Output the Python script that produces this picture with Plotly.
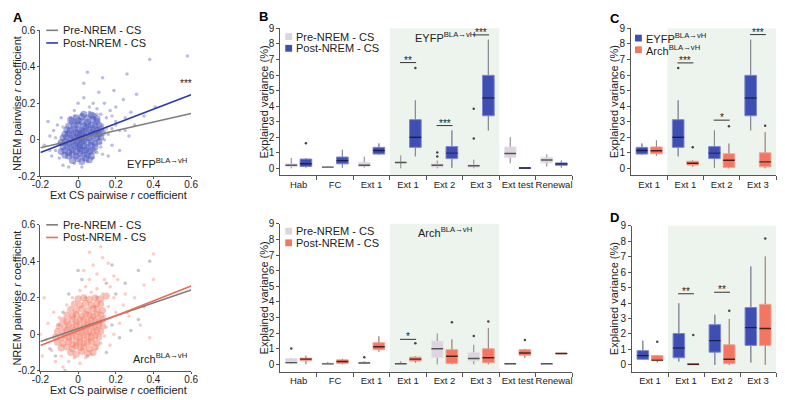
import plotly.graph_objects as go

W, H = 785, 400
def px(x): return x / W
def py(y): return 1 - y / H

FONT = "Liberation Sans, Arial, sans-serif"

# ---------------- DATA ----------------
# Panel A (top, EYFP): dense core of points and sparser outer points (read approximately)
eyfp_core_x = [-0.03,0.00,0.02,0.04,0.06, -0.07,-0.05,-0.03,-0.01,0.01,0.03,0.05,0.07,
               -0.09,-0.07,-0.05,-0.03,-0.01,0.01,0.02,0.04,0.06,0.08,
               -0.08,-0.06,-0.04,-0.02,0.00,0.01,0.03,0.05,0.07,0.09,
               -0.09,-0.07,-0.05,-0.03,-0.01,0.00,0.02,0.03,0.05,0.07,0.09,0.11,
               -0.08,-0.06,-0.04,-0.02,0.00,0.01,0.02,0.04,0.06,0.08,0.10,0.12,
               -0.07,-0.05,-0.03,-0.01,0.00,0.02,0.03,0.05,0.07,0.09,0.11,0.13,
               -0.06,-0.04,-0.02,0.00,0.02,0.04,0.06,0.08,0.10,0.12,
               -0.05,-0.02,0.00,0.03,0.05,0.07,0.09,0.11,
               -0.03,0.00,0.02,0.05,0.08,0.10,
               -0.01,0.02,0.05,0.08,0.03,0.07,-0.04,0.10]
eyfp_core_y = [-0.115,-0.105,-0.12,-0.10,-0.11, -0.085,-0.09,-0.08,-0.09,-0.075,-0.085,-0.08,-0.09,
               -0.065,-0.06,-0.07,-0.055,-0.065,-0.05,-0.06,-0.055,-0.065,-0.06,
               -0.04,-0.035,-0.045,-0.03,-0.04,-0.03,-0.035,-0.045,-0.03,-0.04,
               -0.015,-0.01,-0.02,-0.01,-0.02,-0.005,-0.015,-0.005,-0.015,-0.01,-0.02,-0.01,
               0.01,0.015,0.005,0.015,0.01,0.02,0.005,0.015,0.01,0.02,0.01,0.015,
               0.03,0.035,0.025,0.04,0.03,0.035,0.045,0.03,0.04,0.035,0.03,0.04,
               0.055,0.05,0.06,0.055,0.05,0.065,0.055,0.06,0.05,0.06,
               0.075,0.08,0.085,0.075,0.085,0.08,0.075,0.08,
               0.10,0.105,0.10,0.095,0.11,0.10,
               0.12,0.125,0.12,0.13,0.14,0.135,0.11,0.115]
eyfp_outer_x = [-0.18,-0.15,-0.12,-0.13,-0.10,-0.11,-0.09,-0.14,-0.16,-0.08,-0.05,-0.02,0.02,0.05,0.08,
                0.10,0.12,0.14,0.16,0.13,0.15,0.18,0.20,0.17,0.12,0.10,0.06,0.02,-0.02,-0.04,0.08,
                0.14,0.20,0.22,0.25,0.24,0.28,0.30,0.27,0.18,0.22,0.16,0.03,0.00,0.11,0.19,0.31,
                0.26,0.03,0.38,0.58,0.05,0.35,0.13,0.41]
eyfp_outer_y = [-0.03,0.02,-0.06,0.05,-0.10,0.08,0.12,-0.09,0.10,-0.14,-0.15,-0.13,-0.15,-0.12,-0.10,
                -0.07,-0.04,0.00,0.03,0.08,0.12,0.06,0.10,0.16,0.14,0.17,0.15,0.14,0.16,0.12,0.20,
                0.20,0.18,0.05,0.12,0.22,0.15,0.08,0.02,-0.03,-0.06,-0.09,0.23,0.20,0.26,0.27,0.25,
                0.36,0.31,0.44,0.46,0.37,0.13,0.34,0.18]
eyfp_pre_x = [-0.10,-0.06,0.05,0.10,0.12,-0.04,0.00,0.15,0.08,-0.12,0.20,0.03,-0.08,0.18,0.25,0.06,-0.15,0.10,0.13,-0.02]
eyfp_pre_y = [-0.02,0.04,0.06,0.04,-0.02,-0.07,0.09,0.06,-0.06,0.01,0.08,-0.11,0.07,0.13,0.05,0.18,-0.06,0.14,-0.08,0.13]

# Panel A (bottom, Arch)
arch_core_x = [-0.04,-0.01,0.02,0.05,0.08, -0.09,-0.06,-0.03,-0.01,0.01,0.03,0.06,0.09,
               -0.11,-0.08,-0.05,-0.03,-0.01,0.01,0.03,0.05,0.07,0.10,
               -0.12,-0.09,-0.07,-0.05,-0.03,-0.01,0.01,0.03,0.05,0.07,0.09,0.11,
               -0.11,-0.08,-0.06,-0.04,-0.02,0.00,0.02,0.04,0.06,0.08,0.10,0.12,
               -0.10,-0.07,-0.05,-0.03,-0.01,0.01,0.03,0.05,0.07,0.09,0.11,0.13,
               -0.08,-0.06,-0.03,-0.01,0.01,0.03,0.05,0.07,0.09,0.11,0.13,
               -0.06,-0.03,-0.01,0.02,0.04,0.06,0.08,0.10,0.12,
               -0.04,-0.01,0.02,0.05,0.08,0.10,0.13,
               -0.02,0.01,0.04,0.07,0.10,0.12,
               0.00,0.03,0.06,0.09,0.12,0.15]
arch_core_y = [-0.10,-0.11,-0.095,-0.105,-0.10, -0.075,-0.07,-0.08,-0.065,-0.075,-0.07,-0.08,-0.07,
               -0.045,-0.05,-0.04,-0.055,-0.045,-0.04,-0.05,-0.045,-0.04,-0.05,
               -0.015,-0.02,-0.01,-0.02,-0.015,-0.01,-0.02,-0.01,-0.015,-0.02,-0.01,-0.015,
               0.015,0.01,0.02,0.01,0.02,0.015,0.01,0.02,0.015,0.01,0.02,0.015,
               0.045,0.04,0.05,0.04,0.05,0.045,0.04,0.05,0.045,0.04,0.05,0.045,
               0.075,0.07,0.08,0.07,0.08,0.075,0.07,0.08,0.075,0.07,0.08,
               0.105,0.10,0.11,0.10,0.11,0.105,0.10,0.11,0.105,
               0.135,0.13,0.14,0.13,0.14,0.135,0.13,
               0.165,0.16,0.17,0.16,0.17,0.165,
               0.195,0.20,0.19,0.20,0.195,0.21]
arch_outer_x = [-0.19,-0.17,-0.16,-0.14,-0.13,-0.12,-0.10,-0.09,-0.08,-0.05,-0.02,0.01,0.04,0.07,0.10,
                0.12,0.14,0.15,0.14,0.16,0.13,0.10,0.07,0.04,0.01,-0.03,-0.06,0.06,0.10,0.14,
                0.17,0.19,0.20,0.22,0.19,0.17,0.24,0.27,0.25,0.21,0.06,0.12,0.16,0.19,0.08,
                0.30,0.33,0.38,0.40,0.40,0.35,-0.18,-0.20,0.03,0.13]
arch_outer_y = [-0.12,-0.03,0.06,-0.09,0.12,-0.15,0.09,-0.12,-0.18,-0.15,-0.13,-0.16,-0.13,-0.11,-0.08,
                -0.05,-0.01,0.04,0.10,0.15,0.22,0.25,0.23,0.26,0.24,0.20,0.16,0.30,0.33,0.30,
                0.26,0.20,0.12,0.06,0.00,-0.06,0.16,0.10,0.22,0.30,0.45,0.48,0.39,0.32,0.38,
                0.20,0.05,-0.02,0.30,0.44,0.27,0.20,0.00,0.35,0.42]
arch_pre_x = [-0.15,-0.10,0.00,0.02,0.18,0.25,0.32,0.38,0.32,0.28,0.15,0.10,-0.05,-0.12,-0.07,0.05,0.20,0.22,0.12,-0.02,0.06,0.09,0.26,0.35,0.15,-0.08,0.18,0.04]
arch_pre_y = [-0.08,0.05,0.35,0.30,0.38,0.28,0.35,0.40,0.08,0.02,-0.10,0.20,0.22,-0.12,-0.20,-0.12,0.22,-0.02,0.07,0.10,0.00,0.15,0.12,0.15,0.28,0.12,0.05,0.20]

# Regression lines (endpoints)
fit_x = [-0.2, 0.6]
eyfp_pre_fit = [-0.044, 0.144]
eyfp_post_fit = [-0.070, 0.247]
arch_pre_fit = [-0.040, 0.243]
arch_post_fit = [-0.062, 0.265]

a_ticks = [-0.2, 0, 0.2, 0.4, 0.6]
a_ticktext = ["-0.2", "0", "0.2", "0.4", "0.6"]

# Panel B categories
b_cats = ["Hab", "FC", "Ext 1", "Ext 1", "Ext 2", "Ext 3", "Ext test", "Renewal"]
# B top (EYFP)
be_pre_q1  = [0.10, 0.05, 0.12, 0.34, 0.08, 0.08, 0.69, 0.35]
be_pre_med = [0.20, 0.08, 0.20, 0.38, 0.20, 0.17, 0.96, 0.54]
be_pre_q3  = [0.30, 0.10, 0.40, 0.42, 0.31, 0.25, 1.38, 0.71]
be_pre_lo  = [0.00, 0.02, 0.05, 0.00, 0.00, 0.00, 0.33, 0.12]
be_pre_hi  = [0.67, 0.12, 0.75, 0.83, 0.50, 0.56, 2.00, 0.90]
be_pre_out_i = [4, 4, 5, 5]
be_pre_out_v = [0.77, 1.02, 1.92, 3.83]
be_post_q1  = [0.12, 0.29, 0.92, 1.35, 0.63, 3.38, 0.01, 0.20]
be_post_med = [0.30, 0.50, 1.15, 2.00, 0.98, 4.52, 0.02, 0.29]
be_post_q3  = [0.60, 0.73, 1.35, 3.13, 1.40, 5.98, 0.03, 0.35]
be_post_lo  = [0.05, 0.04, 0.88, 0.77, 0.04, 2.44, 0.00, 0.05]
be_post_hi  = [0.65, 1.19, 1.60, 4.37, 2.44, 8.27, 0.04, 0.50]
be_post_out_i = [0, 3]
be_post_out_v = [1.62, 6.46]
be_sig_i = [3, 4, 5]
be_sig_y = [6.80, 2.75, 8.58]
be_sig_t = ["**", "***", "***"]
# B bottom (Arch)
ba_pre_q1  = [0.06, 0.00, 0.06, 0.00, 0.42, 0.21, 0.00, 0.00]
ba_pre_med = [0.11, 0.03, 0.08, 0.04, 1.00, 0.37, 0.04, 0.04]
ba_pre_q3  = [0.37, 0.08, 0.15, 0.06, 1.50, 0.77, 0.06, 0.06]
ba_pre_lo  = [0.02, 0.00, 0.02, 0.00, 0.00, 0.00, 0.00, 0.00]
ba_pre_hi  = [0.40, 0.15, 0.20, 0.20, 1.98, 1.25, 0.08, 0.08]
ba_pre_out_i = [0, 2, 5]
ba_pre_out_v = [1.02, 0.45, 1.81]
ba_post_q1  = [0.23, 0.06, 0.94, 0.21, 0.06, 0.10, 0.58, 0.67]
ba_post_med = [0.33, 0.18, 1.13, 0.33, 0.52, 0.42, 0.73, 0.69]
ba_post_q3  = [0.40, 0.29, 1.38, 0.46, 0.94, 1.00, 0.94, 0.71]
ba_post_lo  = [0.00, 0.00, 0.81, 0.10, 0.00, 0.00, 0.41, 0.66]
ba_post_hi  = [0.56, 0.35, 1.80, 0.52, 1.60, 2.33, 0.99, 0.72]
ba_post_out_i = [3, 4, 5, 6]
ba_post_out_v = [1.35, 2.70, 2.74, 1.56]
ba_sig_i = [3]
ba_sig_y = [1.60]
ba_sig_t = ["*"]

# Panel C (Post-NREM of Ext 1 .. Ext 3, EYFP vs Arch)
c_cats = ["Ext 1", "Ext 1", "Ext 2", "Ext 3"]
c_sig_i = [1, 2, 3]
c_sig_y = [6.78, 3.10, 8.60]
c_sig_t = ["***", "*", "***"]

# Panel D
d_eyfp_q1  = [0.36, 0.46, 0.82, 1.26]
d_eyfp_med = [0.60, 1.09, 1.57, 2.41]
d_eyfp_q3  = [0.92, 2.03, 2.60, 3.71]
d_eyfp_lo  = [0.31, 0.21, 0.00, 0.15]
d_eyfp_hi  = [1.57, 3.98, 3.25, 6.37]
d_arch_q1  = [0.27, 0.00, 0.08, 1.26]
d_arch_med = [0.31, 0.04, 0.36, 2.35]
d_arch_q3  = [0.60, 0.08, 1.30, 3.92]
d_arch_lo  = [0.15, 0.00, 0.00, 0.00]
d_arch_hi  = [0.62, 0.10, 2.98, 7.02]
d_arch_out_i = [0, 1, 2, 3]
d_arch_out_v = [1.50, 1.93, 3.50, 8.18]
d_sig_i = [1, 2]
d_sig_y = [4.60, 4.70]
d_sig_t = ["**", "**"]

var_ticks = list(range(10))

# ---------------- STYLE ----------------
PRE_FILL, PRE_EDGE, PRE_MED = "#dcd4df", "#e9e3ec", "#555555"
BLUE_FILL, BLUE_EDGE, BLUE_MED = "#3f4eb3", "#7c87cf", "#1b1f4d"
SAL_FILL, SAL_EDGE, SAL_MED = "#f27662", "#f7a393", "#4a2018"
WHISK = "#8a8a8a"
SHADE = "#edf4ee"
AXC = "#555555"
TXT = "#222222"

fig = go.Figure()

# ---------- Panel A scatters ----------
def add_scatter_panel(xa, ya, prex, prey, corex, corey, outx, outy, postcol, prefit, postfit, linecol):
    fig.add_trace(go.Scatter(x=prex, y=prey, mode="markers", xaxis=xa, yaxis=ya,
                             marker=dict(size=3.5, color="#8d8d99", opacity=0.5),
                             showlegend=False, hoverinfo="skip"))
    fig.add_trace(go.Scatter(x=outx, y=outy, mode="markers", xaxis=xa, yaxis=ya,
                             marker=dict(size=3.5, color=postcol, opacity=0.4),
                             showlegend=False, hoverinfo="skip"))
    fig.add_trace(go.Scatter(x=corex, y=corey, mode="markers", xaxis=xa, yaxis=ya,
                             marker=dict(size=7, color=postcol, opacity=0.5),
                             showlegend=False, hoverinfo="skip"))
    fig.add_trace(go.Scatter(x=fit_x, y=prefit, mode="lines", xaxis=xa, yaxis=ya,
                             line=dict(color="#7f7f7f", width=1.6), showlegend=False, hoverinfo="skip"))
    fig.add_trace(go.Scatter(x=fit_x, y=postfit, mode="lines", xaxis=xa, yaxis=ya,
                             line=dict(color=linecol, width=1.6), showlegend=False, hoverinfo="skip"))

add_scatter_panel("x", "y", eyfp_pre_x, eyfp_pre_y, eyfp_core_x, eyfp_core_y,
                  eyfp_outer_x, eyfp_outer_y, "#4f5bbf", eyfp_pre_fit, eyfp_post_fit, "#2b3aa6")
add_scatter_panel("x2", "y2", arch_pre_x, arch_pre_y, arch_core_x, arch_core_y,
                  arch_outer_x, arch_outer_y, "#f4846f", arch_pre_fit, arch_post_fit, "#f06a55")

# ---------- Box helpers ----------
OFF, BW = 0.2, 0.32
def add_boxes(xa, ya, pos, q1, med, q3, lo, hi, fill, edge, medc, out_i=(), out_v=()):
    fig.add_trace(go.Box(x=pos, q1=q1, median=med, q3=q3, lowerfence=lo, upperfence=hi,
                         width=BW, fillcolor=fill, line=dict(color=edge, width=1),
                         whiskerwidth=0, xaxis=xa, yaxis=ya, showlegend=False,
                         hoverinfo="skip", boxpoints=False))
    wx, wy, mx, my = [], [], [], []
    for p, a, b, c, d, m in zip(pos, lo, q1, q3, hi, med):
        wx += [p, p, None, p, p, None]
        wy += [a, b, None, c, d, None]
        mx += [p - BW / 2, p + BW / 2, None]
        my += [m, m, None]
    fig.add_trace(go.Scatter(x=wx, y=wy, mode="lines", xaxis=xa, yaxis=ya,
                             line=dict(color=WHISK, width=1), showlegend=False, hoverinfo="skip"))
    fig.add_trace(go.Scatter(x=mx, y=my, mode="lines", xaxis=xa, yaxis=ya,
                             line=dict(color=medc, width=1.4), showlegend=False, hoverinfo="skip"))
    if len(out_i):
        fig.add_trace(go.Scatter(x=[pos[i] for i in out_i], y=list(out_v), mode="markers",
                                 xaxis=xa, yaxis=ya, marker=dict(size=2.5, color="#444"),
                                 showlegend=False, hoverinfo="skip"))

nb = len(b_cats)
pre_pos = [i - OFF for i in range(nb)]
post_pos = [i + OFF for i in range(nb)]
add_boxes("x3", "y3", pre_pos, be_pre_q1, be_pre_med, be_pre_q3, be_pre_lo, be_pre_hi,
          PRE_FILL, PRE_EDGE, PRE_MED, be_pre_out_i, be_pre_out_v)
add_boxes("x3", "y3", post_pos, be_post_q1, be_post_med, be_post_q3, be_post_lo, be_post_hi,
          BLUE_FILL, BLUE_EDGE, BLUE_MED, be_post_out_i, be_post_out_v)
add_boxes("x4", "y4", pre_pos, ba_pre_q1, ba_pre_med, ba_pre_q3, ba_pre_lo, ba_pre_hi,
          PRE_FILL, PRE_EDGE, PRE_MED, ba_pre_out_i, ba_pre_out_v)
add_boxes("x4", "y4", post_pos, ba_post_q1, ba_post_med, ba_post_q3, ba_post_lo, ba_post_hi,
          SAL_FILL, SAL_EDGE, SAL_MED, ba_post_out_i, ba_post_out_v)

nc = len(c_cats)
c_l = [i - OFF for i in range(nc)]
c_r = [i + OFF for i in range(nc)]
sl = slice(2, 6)
def sub_out(idx, val):
    oi, ov = [], []
    for i, v in zip(idx, val):
        if 2 <= i <= 5:
            oi.append(i - 2); ov.append(v)
    return oi, ov
oi, ov = sub_out(be_post_out_i, be_post_out_v)
add_boxes("x5", "y5", c_l, be_post_q1[sl], be_post_med[sl], be_post_q3[sl], be_post_lo[sl],
          be_post_hi[sl], BLUE_FILL, BLUE_EDGE, BLUE_MED, oi, ov)
oi, ov = sub_out(ba_post_out_i, ba_post_out_v)
add_boxes("x5", "y5", c_r, ba_post_q1[sl], ba_post_med[sl], ba_post_q3[sl], ba_post_lo[sl],
          ba_post_hi[sl], SAL_FILL, SAL_EDGE, SAL_MED, oi, ov)

add_boxes("x6", "y6", c_l, d_eyfp_q1, d_eyfp_med, d_eyfp_q3, d_eyfp_lo, d_eyfp_hi,
          BLUE_FILL, BLUE_EDGE, BLUE_MED)
add_boxes("x6", "y6", c_r, d_arch_q1, d_arch_med, d_arch_q3, d_arch_lo, d_arch_hi,
          SAL_FILL, SAL_EDGE, SAL_MED, d_arch_out_i, d_arch_out_v)

# ---------- Axes ----------
def dom_x(a, b): return [px(a), px(b)]
def dom_y(top, bot): return [py(bot), py(top)]

tickfont = dict(family=FONT, size=10, color=TXT)
titlefont = dict(family=FONT, size=11, color=TXT)

def lin_axis(dom, anchor, standoff=0):
    d = dict(domain=dom, anchor=anchor, range=[-0.2005, 0.6005], tickvals=a_ticks, ticktext=a_ticktext,
             showline=True, linecolor=AXC, linewidth=1, ticks="outside", ticklen=2,
             tickcolor=AXC, showgrid=False, zeroline=False, tickfont=tickfont)
    if standoff:
        d["ticklabelstandoff"] = standoff
    return d

lay = {}
lay["xaxis"] = lin_axis(dom_x(32, 186), "y", -3)
lay["yaxis"] = lin_axis(dom_y(25, 175), "x")
lay["xaxis2"] = lin_axis(dom_x(32, 186), "y2", -3)
lay["yaxis2"] = lin_axis(dom_y(225, 375), "x2")

def cat_axis(dom, anchor, cats):
    n = len(cats)
    return dict(domain=dom, anchor=anchor, range=[-0.5, n - 0.5],
                tickvals=list(range(n)), ticktext=cats, ticks="", tickangle=0,
                minor=dict(tickvals=[i + 0.5 for i in range(n)], ticks="outside",
                           ticklen=4, tickcolor=AXC, showgrid=False),
                showline=True, linecolor=AXC, linewidth=1, showgrid=False, zeroline=False,
                tickfont=dict(family=FONT, size=9.5, color=TXT))

def var_axis(dom, anchor, lo):
    return dict(domain=dom, anchor=anchor, range=[lo, 9], tickvals=var_ticks,
                showline=True, linecolor=AXC, linewidth=1, ticks="outside", ticklen=3,
                tickcolor=AXC, showgrid=False, zeroline=False, tickfont=tickfont)

lay["xaxis3"] = cat_axis(dom_x(277, 575), "y3", b_cats)
lay["yaxis3"] = var_axis(dom_y(23, 174), "x3", -0.44)
lay["xaxis4"] = cat_axis(dom_x(277, 575), "y4", b_cats)
lay["yaxis4"] = var_axis(dom_y(224, 376), "x4", -0.47)
lay["xaxis5"] = cat_axis(dom_x(635, 783), "y5", c_cats)
lay["yaxis5"] = var_axis(dom_y(23, 174), "x5", -0.44)
lay["xaxis6"] = cat_axis(dom_x(636, 783), "y6", c_cats)
lay["yaxis6"] = var_axis(dom_y(226, 376), "x6", -0.44)

shapes, annos = [], []

# axis titles
for top in (0, 200):
    annos.append(dict(xref="paper", yref="paper", x=px(112), y=py(top + 194.5),
                      text="Ext CS pairwise <i>r</i> coefficient", showarrow=False,
                      xanchor="center", yanchor="middle", font=titlefont))
    annos.append(dict(xref="paper", yref="paper", x=px(8), y=py(top + 100),
                      text="NREM pairwise <i>r</i> coefficient", showarrow=False, textangle=-90,
                      xanchor="center", yanchor="middle", font=titlefont))
for xc, top, bot in [(260, 23, 174), (260, 224, 376), (617, 23, 174), (617, 226, 376)]:
    annos.append(dict(xref="paper", yref="paper", x=px(xc), y=py((top + bot) / 2),
                      text="Explained variance (%)", showarrow=False, textangle=-90,
                      xanchor="center", yanchor="middle", font=titlefont))

# green shading
for xa, x0, x1 in [("x3", 2.5, 5.5), ("x4", 2.5, 5.5), ("x5", 0.5, 3.5), ("x6", 0.5, 3.5)]:
    ya = "y" + xa[1:]
    shapes.append(dict(type="rect", xref=xa, yref=ya + " domain", x0=x0, x1=x1, y0=0, y1=1,
                       fillcolor=SHADE, line=dict(width=0), layer="below"))

# significance bars
def sig(xa, idx, yv, txt):
    ya = "y" + xa[1:]
    for i, y, t in zip(idx, yv, txt):
        shapes.append(dict(type="line", xref=xa, yref=ya, x0=i - 0.22, x1=i + 0.22, y0=y, y1=y,
                           line=dict(color="#333", width=1)))
        annos.append(dict(xref=xa, yref=ya, x=i, y=y, text=t, showarrow=False,
                          yanchor="bottom", yshift=-5, font=dict(family=FONT, size=10, color="#222")))
sig("x3", be_sig_i, be_sig_y, be_sig_t)
sig("x4", ba_sig_i, ba_sig_y, ba_sig_t)
sig("x5", c_sig_i, c_sig_y, c_sig_t)
sig("x6", d_sig_i, d_sig_y, d_sig_t)

legfont = dict(family=FONT, size=11, color=TXT)
# Panel A legends (line samples)
for top, col in [(0, "#2b3aa6"), (200, "#f06a55")]:
    for yy, c, label in [(25, "#7f7f7f", "Pre-NREM - CS"), (38, col, "Post-NREM - CS")]:
        shapes.append(dict(type="line", xref="paper", yref="paper", x0=px(38), x1=px(50),
                           y0=py(top + yy), y1=py(top + yy), line=dict(color=c, width=1.6)))
        annos.append(dict(xref="paper", yref="paper", x=px(53), y=py(top + yy), text=label,
                          showarrow=False, xanchor="left", yanchor="middle", font=legfont))
# Panel B legends (squares)
for top, col in [(0, BLUE_FILL), (200, SAL_FILL)]:
    for yy, c, label in [(31.5, PRE_FILL, "Pre-NREM - CS"), (43.5, col, "Post-NREM - CS")]:
        shapes.append(dict(type="rect", xref="paper", yref="paper", x0=px(282), x1=px(289),
                           y0=py(top + yy + 3.5), y1=py(top + yy - 3.5), fillcolor=c, line=dict(width=0)))
        annos.append(dict(xref="paper", yref="paper", x=px(291), y=py(top + yy), text=label,
                          showarrow=False, xanchor="left", yanchor="middle", font=legfont))
# Panel C legend
for yy, c, label in [(33, BLUE_FILL, "EYFP<sup>BLA→vH</sup>"), (45, SAL_FILL, "Arch<sup>BLA→vH</sup>")]:
    shapes.append(dict(type="rect", xref="paper", yref="paper", x0=px(639), x1=px(646),
                       y0=py(yy + 3.5), y1=py(yy - 3.5), fillcolor=c, line=dict(width=0)))
    annos.append(dict(xref="paper", yref="paper", x=px(648), y=py(yy), text=label,
                      showarrow=False, xanchor="left", yanchor="middle", font=legfont))

# group labels
annos.append(dict(xref="x", yref="y", x=0.59, y=-0.13, text="EYFP<sup>BLA→vH</sup>", showarrow=False,
                  xanchor="right", yanchor="middle", font=legfont))
annos.append(dict(xref="x2", yref="y2", x=0.59, y=-0.13, text="Arch<sup>BLA→vH</sup>", showarrow=False,
                  xanchor="right", yanchor="middle", font=legfont))
annos.append(dict(xref="x", yref="y", x=0.575, y=0.27, text="***", showarrow=False,
                  yanchor="bottom", font=dict(family=FONT, size=10, color="#222")))
annos.append(dict(xref="x3", yref="y3", x=4, y=8.45, text="EYFP<sup>BLA→vH</sup>", showarrow=False,
                  yanchor="middle", font=legfont))
annos.append(dict(xref="x4", yref="y4", x=4, y=8.45, text="Arch<sup>BLA→vH</sup>", showarrow=False,
                  yanchor="middle", font=legfont))

# panel letters
for (x, y, t) in [(2, 2, "A"), (253, 1, "B"), (611, 3, "C"), (611, 208, "D")]:
    annos.append(dict(xref="paper", yref="paper", x=px(x), y=py(y), text="<b>" + t + "</b>",
                      showarrow=False, xanchor="left", yanchor="top",
                      font=dict(family=FONT, size=13, color="#000")))

fig.update_layout(width=W, height=H, margin=dict(l=0, r=0, t=0, b=0),
                  paper_bgcolor="white", plot_bgcolor="white", showlegend=False,
                  shapes=shapes, annotations=annos, **lay)

fig.write_html("out.html", config={"displayModeBar": False},
               post_script="document.body.style.margin='0px';")
